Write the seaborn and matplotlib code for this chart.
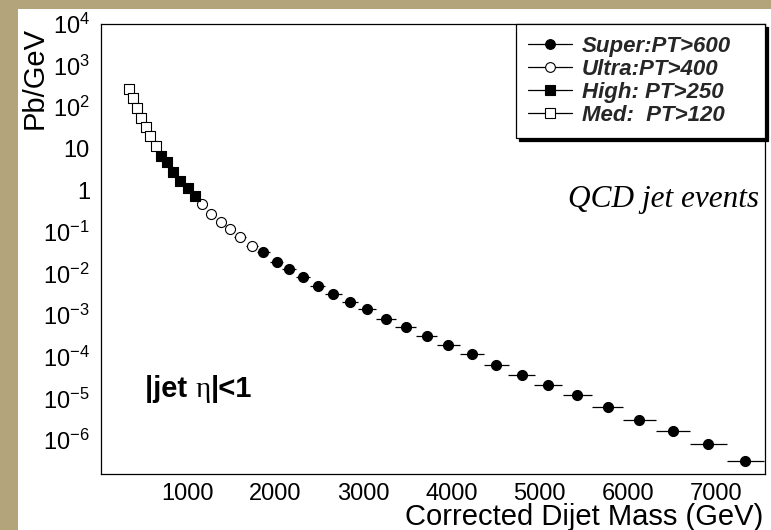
import numpy as np
import pandas as pd
import matplotlib
matplotlib.use("Agg")
import matplotlib.pyplot as plt
import seaborn as sns
from matplotlib.lines import Line2D
from matplotlib.patches import Rectangle
from matplotlib.ticker import FixedLocator, FixedFormatter, MultipleLocator, NullFormatter
from matplotlib.offsetbox import TextArea, HPacker, AnchoredOffsetbox

# ---------------- data ----------------
med_mass = [339, 388, 433, 478, 528, 580, 642]
med_xsec = [272, 165, 95, 55.7, 32.6, 20.6, 11.7]
med_halfwidth = [24, 23, 23, 24, 26, 28, 30]

high_mass = [702, 770, 841, 917, 1005, 1087]
high_xsec = [6.84, 4.72, 2.72, 1.69, 1.12, 0.72]
high_halfwidth = [34, 35, 37, 41, 43, 41]

ultra_mass = [1167, 1271, 1379, 1482, 1598, 1736]
ultra_xsec = [0.477, 0.278, 0.174, 0.119, 0.075, 0.0474]
ultra_halfwidth = [52, 53, 53, 55, 63, 66]

super_mass = [1862, 2015, 2156, 2315, 2482, 2660, 2848, 3045, 3256, 3480, 3718,
              3964, 4228, 4508, 4795, 5101, 5430, 5773, 6133, 6518, 6918, 7338]
super_xsec = [0.0326, 0.0189, 0.0126, 0.00824, 0.00501, 0.00330, 0.00212, 0.00138,
              8.1e-4, 5.33e-4, 3.24e-4, 1.90e-4, 1.17e-4, 6.29e-5, 3.68e-5, 2.08e-5,
              1.20e-5, 6.29e-6, 3.07e-6, 1.62e-6, 7.89e-7, 3.19e-7]
super_halfwidth = [72, 74, 75, 82, 86, 92, 96, 102, 109, 116, 121, 128, 136, 142,
                   148, 159, 168, 176, 186, 196, 205, 212]

sample_labels = ["Super:PT>600", "Ultra:PT>400", "High: PT>250", "Med:  PT>120"]

ytick_values = [1e4, 1e3, 1e2, 10, 1, 1e-1, 1e-2, 1e-3, 1e-4, 1e-5, 1e-6]
ytick_labels = [r"$\mathdefault{10^{4}}$", r"$\mathdefault{10^{3}}$", r"$\mathdefault{10^{2}}$",
                "10", "1", r"$\mathdefault{10^{-1}}$", r"$\mathdefault{10^{-2}}$",
                r"$\mathdefault{10^{-3}}$", r"$\mathdefault{10^{-4}}$",
                r"$\mathdefault{10^{-5}}$", r"$\mathdefault{10^{-6}}$"]
xtick_values = [1000, 2000, 3000, 4000, 5000, 6000, 7000]
xtick_labels = ["1000", "2000", "3000", "4000", "5000", "6000", "7000"]

# ---------------- style ----------------
sns.set_theme(style="white")
plt.rcParams["font.family"] = ["Liberation Sans", "DejaVu Sans"]
plt.rcParams["mathtext.fontset"] = "custom"
plt.rcParams["mathtext.rm"] = "Liberation Sans"
plt.rcParams["mathtext.sf"] = "Liberation Sans"
plt.rcParams["mathtext.bf"] = "Liberation Sans:bold"
plt.rcParams["mathtext.it"] = "Liberation Sans:italic"

W, H = 771, 530
fig = plt.figure(figsize=(W / 100, H / 100), dpi=100, facecolor="#b3a47c")
fig.patches.append(Rectangle((18 / W, 0), 1 - 18 / W, 1 - 9 / H, transform=fig.transFigure,
                             facecolor="white", edgecolor="none", zorder=-10))
ax = fig.add_axes([101 / W, 1 - 474 / H, 664 / W, 450 / H])
ax.set_facecolor("white")

series = [
    (super_mass, super_xsec, super_halfwidth, "o", "black", sample_labels[0]),
    (ultra_mass, ultra_xsec, ultra_halfwidth, "o", "white", sample_labels[1]),
    (high_mass, high_xsec, high_halfwidth, "s", "black", sample_labels[2]),
    (med_mass, med_xsec, med_halfwidth, "s", "white", sample_labels[3]),
]

handles = []
for mass, xsec, hw, mk, fc, lab in series:
    df = pd.DataFrame({"mass": mass, "xsec": xsec, "hw": hw})
    ax.errorbar(df["mass"], df["xsec"], xerr=df["hw"], fmt="none", ecolor="black",
                elinewidth=0.9, capsize=0, zorder=2)
    size = 52 if mk == "o" else 54
    sns.scatterplot(data=df, x="mass", y="xsec", marker=mk, s=size, color=fc,
                    edgecolor="black", linewidth=0.8, ax=ax, zorder=3, legend=False)
    handles.append(Line2D([], [], color="black", lw=0.9, marker=mk, markersize=7 if mk == "o" else 6.5,
                          markerfacecolor=fc, markeredgecolor="black", markeredgewidth=0.8, label=lab))

ax.set_yscale("log")
ax.set_xlim(20, 7560)
ax.set_ylim(10 ** -6.815, 1e4)

ax.yaxis.set_major_locator(FixedLocator(ytick_values))
ax.yaxis.set_major_formatter(FixedFormatter(ytick_labels))
minor_y = [m * 10.0 ** e for e in range(-7, 4) for m in (2, 3, 4, 5, 6, 6.5, 7, 7.5, 8, 8.5, 9, 9.5)]
ax.yaxis.set_minor_locator(FixedLocator(minor_y))
ax.yaxis.set_minor_formatter(NullFormatter())
ax.xaxis.set_major_locator(FixedLocator(xtick_values))
ax.xaxis.set_major_formatter(FixedFormatter(xtick_labels))
ax.xaxis.set_minor_locator(MultipleLocator(200))

ax.tick_params(axis="both", which="both", direction="in", top=False, right=False,
               color="black", labelcolor="black", width=0.8)
ax.tick_params(axis="y", which="major", length=14.4, labelsize=17, pad=8)
ax.tick_params(axis="y", which="minor", length=7)
ax.tick_params(axis="x", which="major", length=9.4, labelsize=17, pad=6.5)
ax.tick_params(axis="x", which="minor", length=4.3)

for sp in ax.spines.values():
    sp.set_visible(True)
    sp.set_color("black")
    sp.set_linewidth(0.9)

ax.set_xlabel("Corrected Dijet Mass (GeV)", fontsize=21, loc="right", color="black")
ax.xaxis.label.set_va("baseline")
ax.xaxis.set_label_coords(1 - 2 / 664, -(525 - 474) / 450)
ax.set_ylabel("Pb/GeV", fontsize=21, loc="top", color="black")
ax.yaxis.label.set_va("baseline")
ax.yaxis.set_label_coords(-(101 - 43) / 664, (474 - 27) / 450)

leg_x0 = (516 - 101) / 664
leg = ax.legend(handles=handles, loc="upper left", bbox_to_anchor=(leg_x0, 0, 1 - leg_x0, 1),
                mode="expand", borderaxespad=0,
                prop={"family": "Liberation Sans", "weight": "bold", "style": "italic", "size": 16},
                frameon=True, fancybox=False, edgecolor="black", framealpha=1,
                shadow={"color": "black", "alpha": 1}, handlelength=1.95, handletextpad=0.45,
                borderpad=0.55, labelspacing=0.08)
leg.get_frame().set_linewidth(0.9)

ax.text((568 - 101) / 664, (474 - 207) / 450, "QCD jet events", transform=ax.transAxes,
        fontsize=22.5, family="Liberation Serif", style="italic", va="baseline", ha="left",
        color="black")

tp_b = dict(family="Liberation Sans", weight="bold", size=21, color="black")
tp_g = dict(family="Liberation Serif", size=21, color="black")
box = HPacker(children=[TextArea("|jet ", textprops=tp_b), TextArea("\u03b7", textprops=tp_g),
                        TextArea("|<1", textprops=tp_b)], align="baseline", pad=0, sep=0)
anch = AnchoredOffsetbox(loc="lower left", child=box, bbox_to_anchor=((145 - 101) / 664, (474 - 403) / 450),
                         bbox_transform=ax.transAxes, frameon=False, pad=0, borderpad=0)
ax.add_artist(anch)

fig.savefig("out.png", dpi=100, facecolor=fig.get_facecolor())
